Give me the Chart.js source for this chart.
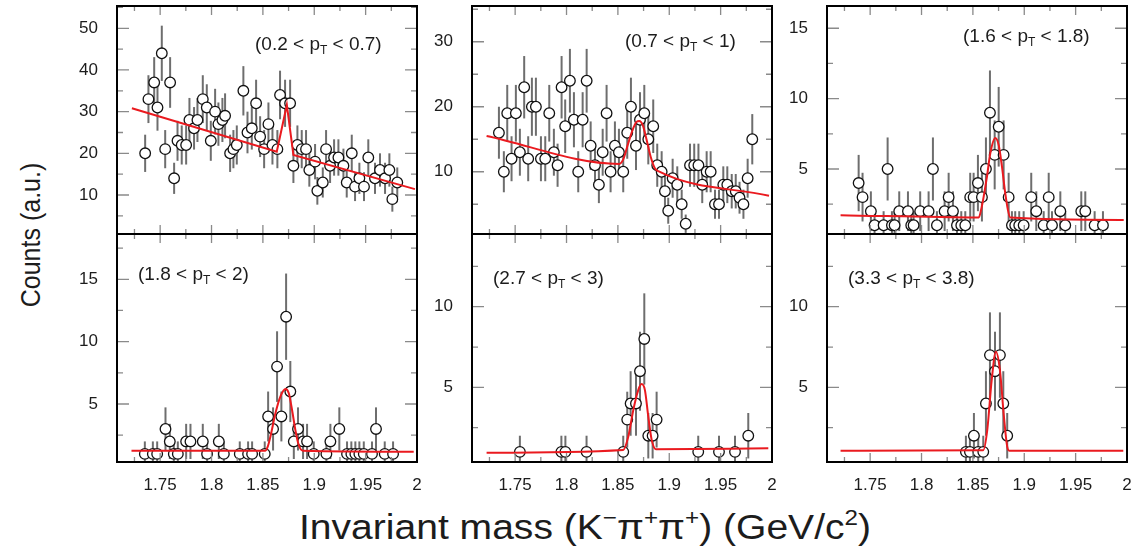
<!DOCTYPE html>
<html>
<head>
<meta charset="utf-8">
<script src="https://cdn.jsdelivr.net/npm/chart.js@4.4.1/dist/chart.umd.min.js"></script>
<style>
  html, body { margin:0; padding:0; background:#fff; }
  #wrap { position:relative; width:1133px; height:558px; overflow:hidden; background:#fff; font-family:'Liberation Sans', Arial, Helvetica, sans-serif; color:#1c1c1c; }
  canvas { position:absolute; }
  #ytitle { position:absolute; left:31px; top:235px; transform:translate(-50%,-50%) scaleX(1.1) rotate(-90deg); font-size:25px; white-space:nowrap; }
  #xtitle { position:absolute; left:585px; top:527px; transform:translate(-50%,-50%) scaleX(1.1); font-size:35.5px; white-space:nowrap; }
  #xtitle sup { font-size:0.62em; vertical-align:0.6em; line-height:0; }
</style>
</head>
<body>
<div id="wrap">
  <div id="ytitle">Counts (a.u.)</div>
  <div id="xtitle">Invariant mass (K<sup>−</sup>π<sup>+</sup>π<sup>+</sup>) (GeV/c<sup>2</sup>)</div>
</div>
<script>
// ---------------- DATA ----------------
const xMajorTicks = [1.75, 1.8, 1.85, 1.9, 1.95, 2.0];
const xTickLabels = ['1.75', '1.8', '1.85', '1.9', '1.95', '2'];
const xMinorTicks = [1.725, 1.775, 1.825, 1.875, 1.925, 1.975];

// Panel 1 (0.2 < pT < 0.7)
const p1PtRange = ['0.2', '0.7'];
const p1Mass = [1.7354,1.7386,1.7442,1.7474,1.7516,1.7549,1.7597,1.7636,1.7669,1.771,1.7753,1.7785,1.783,1.7863,1.7915,1.7954,1.7993,1.8035,1.8067,1.8106,1.8132,1.8181,1.8213,1.8246,1.831,1.835,1.8392,1.8434,1.8473,1.8512,1.8554,1.8593,1.8641,1.8667,1.8716,1.8765,1.8797,1.8836,1.8878,1.892,1.8952,1.9008,1.903,1.9083,1.9115,1.9154,1.9193,1.9235,1.9284,1.9316,1.9365,1.9397,1.9439,1.9484,1.9526,1.9591,1.964,1.9689,1.9731,1.976,1.9808];
const p1Counts = [20,33,37,31,44,21,37,14,23,22,22,28,26,28,33,31,23,30,27,28,29,20,21,22,35,25,26,32,24,21,27,22,21,34,32,32,17,22,21,21,16,18,11,13,21,17,19,19,17,13,20,12,14,12,19,14,16,14,16,9,13];
const p1Errors = [4.47,5.74,6.08,5.57,6.63,4.58,6.08,3.74,4.8,4.69,4.69,5.29,5.1,5.29,5.74,5.57,4.8,5.48,5.2,5.29,5.39,4.47,4.58,4.69,5.92,5,5.1,5.66,4.9,4.58,5.2,4.69,4.58,5.83,5.66,5.66,4.12,4.69,4.58,4.58,4,4.24,3.32,3.61,4.58,4.12,4.36,4.36,4.12,3.61,4.47,3.46,3.74,3.46,4.36,3.74,4,3.74,4,3,3.61];
const p1FitMass = [1.7225, 1.8635, 1.8733, 1.8797, 1.998];
const p1FitCounts = [30.8, 20.4, 31.6, 19.6, 11.4];
const p1YMajor = [10, 20, 30, 40, 50];
const p1YMinor = [5, 15, 25, 35, 45, 55];
const p1YLabels = ['10', '20', '30', '40', '50'];

// Panel 2 (0.7 < pT < 1)
const p2PtRange = ['0.7', '1'];
const p2Mass = [1.7342,1.739,1.7423,1.7465,1.7507,1.7546,1.7588,1.7627,1.7663,1.7702,1.7751,1.7793,1.7832,1.7877,1.7913,1.7952,1.7987,1.8033,1.8072,1.8114,1.8157,1.8196,1.8235,1.8277,1.8315,1.8352,1.839,1.8429,1.8471,1.851,1.8552,1.8591,1.8627,1.8676,1.8715,1.8757,1.8796,1.8844,1.8883,1.8926,1.8958,1.899,1.9033,1.9078,1.9121,1.916,1.9202,1.9243,1.9284,1.9321,1.9364,1.9403,1.9445,1.9484,1.9526,1.9565,1.9608,1.9647,1.9684,1.9722,1.9763,1.9808];
const p2Counts = [16,10,19,12,19,13,23,12,20,20,12,12,19,13,11,23,17,24,18,10,18,24,14,11,8,13,19,10,14,13,10,16,20,14,18,19,15,17,11,10,7,4,9,8,5,2,11,11,11,8,10,10,5,5,8,8,7,7,6,5,9,15];
const p2Errors = [4,3.16,4.36,3.46,4.36,3.61,4.8,3.46,4.47,4.47,3.46,3.46,4.36,3.61,3.32,4.8,4.12,4.9,4.24,3.16,4.24,4.9,3.74,3.32,2.83,3.61,4.36,3.16,3.74,3.61,3.16,4,4.47,3.74,4.24,4.36,3.87,4.12,3.32,3.16,2.65,2,3,2.83,2.24,1.41,3.32,3.32,3.32,2.83,3.16,3.16,2.24,2.24,2.83,2.83,2.65,2.65,2.45,2.24,3,3.87];
const p2FitMass = [1.7222,1.8513,1.8552,1.8601,1.865,1.8683,1.8708,1.8741,1.878,1.8819,1.8861,1.8893,1.9971];
const p2FitCounts = [15.5,11.2,11.9,14.4,16.7,17.7,17.8,17.2,14.9,12.3,10.5,10.1,6.3];
const p2YMajor = [10, 20, 30];
const p2YMinor = [5, 15, 25, 35];
const p2YLabels = ['10', '20', '30'];

// Panel 3 (1.6 < pT < 1.8)
const p3PtRange = ['1.6', '1.8'];
const p3Mass = [1.7388,1.7426,1.7507,1.7543,1.7631,1.767,1.7712,1.7738,1.7783,1.7868,1.79,1.7923,1.7987,1.8069,1.8111,1.815,1.8225,1.8264,1.8306,1.8345,1.8387,1.8426,1.8474,1.8507,1.8549,1.8588,1.8627,1.8666,1.8712,1.8751,1.8799,1.8848,1.888,1.8912,1.8951,1.8994,1.9068,1.9117,1.9189,1.9238,1.927,1.9351,1.9399,1.9555,1.9594,1.9685,1.9766];
const p3Counts = [4,3,2,1,1,5,1,1,2,2,1,1,2,2,5,1,2,3,2,1,1,1,3,3,4,3,5,9,6,8,6,3,1,1,1,1,3,2,1,3,1,2,1,2,2,1,1];
const p3Errors = [2,1.73,1.41,1,1,2.24,1,1,1.41,1.41,1,1,1.41,1.41,2.24,1,1.41,1.73,1.41,1,1,1,1.73,1.73,2,1.73,2.24,3,2.45,2.83,2.45,1.73,1,1,1,1,1.73,1.41,1,1.73,1,1.41,1,1.41,1.41,1,1];
const p3FitMass = [1.7212,1.8557,1.858,1.8605,1.8637,1.8669,1.8718,1.8751,1.8783,1.8815,1.8841,1.8864,1.9968];
const p3FitCounts = [1.72,1.55,2.1,3.04,4.45,6.1,7.2,6.7,5.16,3.28,2.09,1.55,1.38];
const p3YMajor = [5, 10, 15];
const p3YMinor = [2.5, 7.5, 12.5];
const p3YLabels = ['5', '10', '15'];

// Panel 4 (1.8 < pT < 2)
const p4PtRange = ['1.8', '2'];
const p4Mass = [1.7351,1.7429,1.7471,1.7552,1.7594,1.7633,1.7672,1.7753,1.7795,1.7915,1.7957,1.8071,1.812,1.8275,1.8356,1.8395,1.8518,1.8551,1.8599,1.8638,1.868,1.8726,1.8767,1.8801,1.8842,1.8891,1.893,1.8995,1.9118,1.9157,1.9244,1.9319,1.9361,1.94,1.9439,1.9482,1.9562,1.9601,1.9686,1.9767];
const p4Counts = [1,1,1,3,2,1,1,2,2,2,1,2,1,1,1,1,1,4,3,8,4,12,6,2,3,2,2,1,1,2,3,1,1,1,1,1,1,3,1,1];
const p4Errors = [1,1,1,1.73,1.41,1,1,1.41,1.41,1.41,1,1.41,1,1,1,1,1,2,1.73,2.83,2,3.46,2.45,1.41,1.73,1.41,1.41,1,1,1.41,1.73,1,1,1,1,1,1,1.73,1,1];
const p4FitMass = [1.7221,1.8524,1.8548,1.8573,1.8622,1.867,1.8721,1.8752,1.8784,1.8816,1.8849,1.8888,1.9968];
const p4FitCounts = [1.26,1.26,1.6,2.38,4.25,5.59,6.2,5.86,4.52,2.92,1.71,1.26,1.18];
const p4YMajor = [5, 10, 15];
const p4YMinor = [2.5, 7.5, 12.5, 17.5];
const p4YLabels = ['5', '10', '15'];

// Panel 5 (2.7 < pT < 3)
const p5PtRange = ['2.7', '3'];
const p5Mass = [1.7546,1.795,1.7989,1.8195,1.8552,1.8591,1.8624,1.8676,1.8715,1.8757,1.8796,1.8838,1.8877,1.9282,1.9484,1.964,1.9769];
const p5Counts = [1,1,1,1,1,3,4,4,6,8,2,2,3,1,1,1,2];
const p5Errors = [1,1,1,1,1,1.73,2,2,2.45,2.83,1.41,1.41,1.73,1,1,1,1.41];
const p5FitMass = [1.7222,1.8552,1.8601,1.865,1.8698,1.8731,1.8763,1.8796,1.8829,1.887,1.9964];
const p5FitCounts = [0.95,1.12,1.94,3.6,4.83,5.2,4.83,3.18,1.74,1.16,1.22];
const p5YMajor = [5, 10];
const p5YMinor = [2.5, 7.5, 12.5];
const p5YLabels = ['5', '10'];

// Panel 6 (3.3 < pT < 3.8)
const p6PtRange = ['3.3', '3.8'];
const p6Mass = [1.8432,1.8471,1.851,1.8552,1.8601,1.8627,1.8666,1.8715,1.8763,1.8796,1.8834];
const p6Counts = [1,1,2,1,1,4,7,6,7,4,2];
const p6Errors = [1,1,1.41,1,1,2,2.65,2.45,2.65,2,1.41];
const p6FitMass = [1.7212,1.8601,1.864,1.8683,1.8724,1.8763,1.8802,1.8834,1.8854,1.9964];
const p6FitCounts = [1.07,1.1,2.36,5.45,7.2,6.07,3.18,1.32,1.07,1.07];
const p6YMajor = [5, 10];
const p6YMinor = [2.5, 7.5, 12.5];
const p6YLabels = ['5', '10'];

// ---------------- LAYOUT / STYLE ----------------
const X_MIN = 1.708, X_MAX = 2.0;
const FONT = "'Liberation Sans', Arial, Helvetica, sans-serif";
const TEXT_COLOR = '#1c1c1c';
const PAD_L = 70, PAD_T = 10, PAD_R = 12, PAD_B = 45, AREA_W = 300, AREA_H = 228;

const panels = [
  { mass:p1Mass, counts:p1Counts, errors:p1Errors, fitMass:p1FitMass, fitCounts:p1FitCounts, pt:p1PtRange, yMajor:p1YMajor, yMinor:p1YMinor, yLabels:p1YLabels, yMin:0.64, yMax:55.35, smooth:false, showX:false, left:117, top:6, labDx:138, labDy:39 },
  { mass:p2Mass, counts:p2Counts, errors:p2Errors, fitMass:p2FitMass, fitCounts:p2FitCounts, pt:p2PtRange, yMajor:p2YMajor, yMinor:p2YMinor, yLabels:p2YLabels, yMin:0.42, yMax:35.5, smooth:true, showX:false, left:472, top:6, labDx:153, labDy:36 },
  { mass:p3Mass, counts:p3Counts, errors:p3Errors, fitMass:p3FitMass, fitCounts:p3FitCounts, pt:p3PtRange, yMajor:p3YMajor, yMinor:p3YMinor, yLabels:p3YLabels, yMin:0.38, yMax:16.58, smooth:true, showX:false, left:827, top:6, labDx:136, labDy:31 },
  { mass:p4Mass, counts:p4Counts, errors:p4Errors, fitMass:p4FitMass, fitCounts:p4FitCounts, pt:p4PtRange, yMajor:p4YMajor, yMinor:p4YMinor, yLabels:p4YLabels, yMin:0.35, yMax:18.63, smooth:true, showX:true, left:117, top:234, labDx:21, labDy:41 },
  { mass:p5Mass, counts:p5Counts, errors:p5Errors, fitMass:p5FitMass, fitCounts:p5FitCounts, pt:p5PtRange, yMajor:p5YMajor, yMinor:p5YMinor, yLabels:p5YLabels, yMin:0.37, yMax:14.51, smooth:true, showX:true, left:472, top:234, labDx:21, labDy:45 },
  { mass:p6Mass, counts:p6Counts, errors:p6Errors, fitMass:p6FitMass, fitCounts:p6FitCounts, pt:p6PtRange, yMajor:p6YMajor, yMinor:p6YMinor, yLabels:p6YLabels, yMin:0.37, yMax:14.51, smooth:true, showX:true, left:827, top:234, labDx:21, labDy:45 }
];

const near = (a, b) => Math.abs(a - b) < 1e-6;
const zeroPadding = s => { s.paddingTop = 0; s.paddingBottom = 0; s.paddingLeft = 0; s.paddingRight = 0; };

const decorPlugin = {
  id: 'panelDecor',
  beforeDatasetsDraw(chart, args, opts) {
    const ctx = chart.ctx, a = chart.chartArea;
    const xs = chart.scales.x, ys = chart.scales.y;
    const ds = chart.data.datasets[1];
    ctx.save();
    ctx.beginPath(); ctx.rect(a.left, a.top, a.right - a.left, a.bottom - a.top); ctx.clip();
    ctx.strokeStyle = '#6e6e6e'; ctx.lineWidth = 2;
    ds.data.forEach((p, i) => {
      const e = opts.errors[i];
      const px = xs.getPixelForValue(p.x);
      ctx.beginPath();
      ctx.moveTo(px, ys.getPixelForValue(p.y + e));
      ctx.lineTo(px, ys.getPixelForValue(p.y - e));
      ctx.stroke();
    });
    ctx.restore();
  },
  afterDraw(chart, args, opts) {
    const ctx = chart.ctx, a = chart.chartArea;
    const xs = chart.scales.x, ys = chart.scales.y;
    ctx.save();
    // inward tick marks
    ctx.strokeStyle = '#8a8a8a'; ctx.lineWidth = 1.3;
    xs.ticks.forEach(t => {
      const major = xMajorTicks.some(v => near(v, t.value));
      const len = major ? 9 : 5;
      const px = xs.getPixelForValue(t.value);
      ctx.beginPath();
      ctx.moveTo(px, a.bottom); ctx.lineTo(px, a.bottom - len);
      ctx.moveTo(px, a.top); ctx.lineTo(px, a.top + len);
      ctx.stroke();
    });
    ys.ticks.forEach(t => {
      const major = opts.yMajor.some(v => near(v, t.value));
      const len = major ? 12 : 6;
      const py = ys.getPixelForValue(t.value);
      ctx.beginPath();
      ctx.moveTo(a.left, py); ctx.lineTo(a.left + len, py);
      ctx.moveTo(a.right, py); ctx.lineTo(a.right - len, py);
      ctx.stroke();
    });
    // frame
    ctx.strokeStyle = '#000'; ctx.lineWidth = 2;
    ctx.strokeRect(a.left, a.top, a.right - a.left, a.bottom - a.top);
    // pT range label
    let x = a.left + opts.labDx;
    const y = a.top + opts.labDy;
    ctx.fillStyle = TEXT_COLOR;
    ctx.textBaseline = 'middle';
    ctx.textAlign = 'left';
    const main = '19px ' + FONT, sub = '12px ' + FONT;
    const s1 = '(' + opts.pt[0] + ' < p';
    ctx.font = main; ctx.fillText(s1, x, y); x += ctx.measureText(s1).width;
    ctx.font = sub; ctx.fillText('T', x, y + 6); x += ctx.measureText('T').width;
    const s2 = ' < ' + opts.pt[1] + ')';
    ctx.font = main; ctx.fillText(s2, x, y);
    ctx.restore();
  }
};

const wrap = document.getElementById('wrap');
panels.forEach(P => {
  const cv = document.createElement('canvas');
  const W = PAD_L + AREA_W + PAD_R, H = PAD_T + AREA_H + PAD_B;
  cv.width = W; cv.height = H;
  cv.style.width = W + 'px'; cv.style.height = H + 'px';
  cv.style.left = (P.left - PAD_L) + 'px';
  cv.style.top = (P.top - PAD_T) + 'px';
  wrap.appendChild(cv);

  const xTickValues = xMinorTicks.concat(xMajorTicks).sort((a, b) => a - b);
  const yTickValues = P.yMinor.concat(P.yMajor).sort((a, b) => a - b);

  new Chart(cv.getContext('2d'), {
    type: 'scatter',
    data: {
      datasets: [
        {
          label: 'fit',
          data: P.fitMass.map((m, j) => ({ x: m, y: P.fitCounts[j] })),
          showLine: true,
          borderColor: '#ea1a1f',
          borderWidth: 2,
          pointRadius: 0,
          tension: 0,
          cubicInterpolationMode: P.smooth ? 'monotone' : 'default',
          fill: false
        },
        {
          label: 'data',
          data: P.mass.map((m, j) => ({ x: m, y: P.counts[j] })),
          showLine: false,
          pointStyle: 'circle',
          pointRadius: 5.3,
          pointBorderWidth: 1.3,
          borderColor: '#111',
          backgroundColor: '#fff'
        }
      ]
    },
    options: {
      responsive: false,
      animation: false,
      devicePixelRatio: 1,
      layout: { padding: { left: 0, right: PAD_R, top: PAD_T, bottom: 0 } },
      plugins: {
        legend: { display: false },
        tooltip: { enabled: false },
        panelDecor: { errors: P.errors, yMajor: P.yMajor, pt: P.pt, labDx: P.labDx, labDy: P.labDy }
      },
      scales: {
        x: {
          type: 'linear', min: X_MIN, max: X_MAX,
          afterBuildTicks: s => { s.ticks = xTickValues.map(v => ({ value: v })); },
          afterFit: s => { s.height = PAD_B; zeroPadding(s); },
          grid: { display: false, drawTicks: false },
          border: { display: false },
          ticks: {
            display: P.showX, autoSkip: false, maxRotation: 0, minRotation: 0, padding: 13,
            color: TEXT_COLOR, font: { family: FONT, size: 17 },
            callback: v => { const i = xMajorTicks.findIndex(m => near(m, v)); return i >= 0 ? xTickLabels[i] : ''; }
          }
        },
        y: {
          type: 'linear', min: P.yMin, max: P.yMax,
          afterBuildTicks: s => { s.ticks = yTickValues.map(v => ({ value: v })); },
          afterFit: s => { s.width = PAD_L; zeroPadding(s); },
          grid: { display: false, drawTicks: false },
          border: { display: false },
          ticks: {
            autoSkip: false, padding: 19,
            color: TEXT_COLOR, font: { family: FONT, size: 17 },
            callback: v => { const i = P.yMajor.findIndex(m => near(m, v)); return i >= 0 ? P.yLabels[i] : ''; }
          }
        }
      }
    },
    plugins: [decorPlugin]
  });
});
</script>
</body>
</html>
